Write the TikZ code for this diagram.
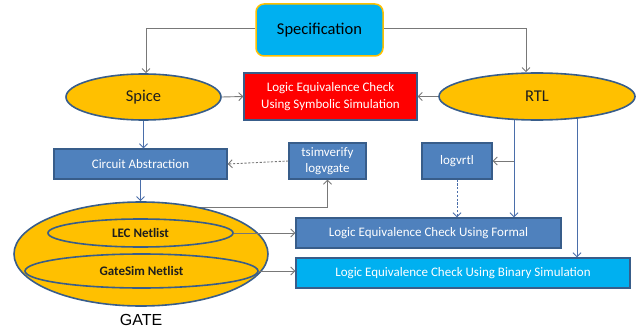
\documentclass[tikz,border=0pt]{standalone}
\usepackage{fontspec}
\setmainfont{Carlito}
\newfontfamily\arialf{Liberation Sans}
\usetikzlibrary{shapes.geometric,arrows.meta,backgrounds}
\definecolor{gold}{RGB}{255,192,0}
\definecolor{cyanb}{RGB}{0,176,240}
\definecolor{steel}{RGB}{79,129,189}
\definecolor{edge}{RGB}{56,93,138}
\definecolor{lgray}{RGB}{120,120,120}
\definecolor{lblue}{RGB}{74,110,170}
\definecolor{redf}{RGB}{255,0,0}
\definecolor{txtdark}{RGB}{30,30,30}
\begin{document}
\begin{tikzpicture}[x=1pt,y=-1pt,
  box/.style={rectangle,draw=edge,line width=1.3pt,fill=steel,text=white,
    font=\fontsize{13}{16.5}\selectfont,inner sep=0pt,align=center},
  oval/.style={ellipse,draw=edge,line width=1.6pt,fill=gold,inner sep=0pt,text=txtdark},
  garr/.style={draw=lgray,line width=0.9pt,-{Straight Barb[length=4pt,width=8pt]}},
  barr/.style={draw=lblue,line width=0.9pt,-{Straight Barb[length=4pt,width=8pt]}},
  dsh/.style={dash pattern=on 2.2pt off 1.6pt},
]
\useasboundingbox (0,0) rectangle (639,331);
% nodes
\node[rectangle,rounded corners=8pt,draw=gold,line width=1.5pt,fill=cyanb,
  minimum width=127pt,minimum height=52pt,font=\fontsize{16.5}{18}\selectfont]
  (spec) at (319.5,30) {Specification};
\node[oval,minimum width=155pt,minimum height=46pt,font=\fontsize{16.5}{18}\selectfont]
  (spice) at (143.5,97) {Spice};
\node[oval,minimum width=196pt,minimum height=47pt,font=\fontsize{16.5}{18}\selectfont]
  (rtl) at (537,96.5) {RTL};
\node[box,fill=redf,minimum width=173pt,minimum height=47pt] (red) at (330.5,96.5)
  {Logic Equivalence Check\\Using Symbolic Simulation};
\node[box,minimum width=173pt,minimum height=30pt] (ca) at (140.5,164) {Circuit Abstraction};
\node[box,minimum width=77pt,minimum height=36pt] (tsim) at (327.5,161) {tsimverify\\logvgate};
\node[box,minimum width=70pt,minimum height=36pt] (logvrtl) at (457,161) {logvrtl};
\node[box,minimum width=265pt,minimum height=30pt] (formal) at (428.5,233)
  {Logic Equivalence Check Using Formal};
\node[box,fill=cyanb,minimum width=334pt,minimum height=30pt] (binary) at (463,273)
  {Logic Equivalence Check Using Binary Simulation};
\node[oval,minimum width=254pt,minimum height=104pt] (gate) at (141,254) {};
\node[oval,minimum width=185pt,minimum height=28pt,font=\bfseries\fontsize{13}{15}\selectfont]
  (lec) at (140.5,233) {LEC Netlist};
\node[oval,minimum width=233pt,minimum height=34pt,font=\bfseries\fontsize{13}{15}\selectfont]
  (gsim) at (141.5,271) {GateSim Netlist};
\node[font=\arialf\fontsize{16}{18}\selectfont,inner sep=0pt] (gatelbl) at (141,320) {GATE};
\coordinate (r1) at (514,97);
\coordinate (r2) at (577,97);
\coordinate (g1) at (160,207);
% connectors
\draw[garr] ([yshift=2pt]spec.west) -| ([xshift=2.5pt]spice.north);
\draw[garr] ([yshift=2pt]spec.east) -| ([xshift=-11pt]rtl.north);
\draw[garr] (spice.east) -- (red.west);
\draw[garr] (rtl.west) -- (red.east);
\draw[barr] (spice.south) -- (spice.south |- ca.north);
\draw[garr,dsh] (tsim.west) -- (ca.east);
\draw[barr] (ca.south) -- (ca.south |- gate.north);
\draw[garr] (lec.east) -- (formal.west);
\draw[garr] (gsim.east) -- (gsim.east -| binary.west);
\draw[barr,dsh] (logvrtl.south) -- (formal.north -| logvrtl.south);
\begin{pgfonlayer}{background}
\draw[garr] (g1) -| (tsim.south);
\draw[barr] (r1) -- (r1 |- formal.north);
\draw[garr] (r1 |- logvrtl.east) -- (logvrtl.east);
\draw[barr] (r2) -- (r2 |- binary.north);
\end{pgfonlayer}
\end{tikzpicture}
\end{document}
